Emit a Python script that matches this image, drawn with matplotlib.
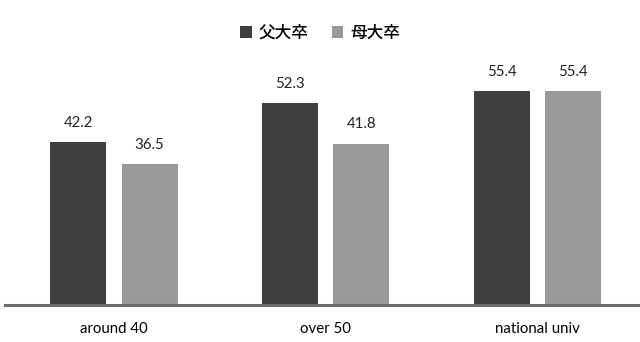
import matplotlib
matplotlib.use("Agg")
import matplotlib.pyplot as plt
import numpy as np

categories = ["around 40", "over 50", "national univ"]
father = [42.2, 52.3, 55.4]
mother = [36.5, 41.8, 55.4]
series_names = ["父大卒", "母大卒"]

plt.rcParams['font.family'] = ['Lato', 'Noto Sans CJK JP', 'DejaVu Sans']

fig = plt.figure(figsize=(6.4, 3.42), dpi=100)
ax = fig.add_axes([5 / 640, 37 / 342, 635 / 640, 270 / 342])

x = np.arange(len(categories))
w = 0.265
off = 0.168
b1 = ax.bar(x - off, father, w, color='#404040', label=series_names[0])
b2 = ax.bar(x + off, mother, w, color='#999999', label=series_names[1])

for bars in (b1, b2):
    for r in bars:
        ax.text(r.get_x() + r.get_width() / 2, r.get_height() + 3.2,
                "{:.1f}".format(r.get_height()), ha='center', va='bottom',
                fontsize=10.8, color='#222222')

ax.set_xlim(-0.515, 2.485)
ax.set_ylim(0, 70)
ax.set_xticks(x)
ax.set_xticklabels(categories, fontsize=10.8)
ax.tick_params(axis='x', length=0, pad=12)
ax.set_yticks([])
for s in ['top', 'right', 'left']:
    ax.spines[s].set_visible(False)
ax.spines['bottom'].set_color('#6e6e6e')
ax.spines['bottom'].set_linewidth(2.2)

fig.legend(handles=[b1, b2], labels=series_names, loc='upper center',
           bbox_to_anchor=(0.5, 0.975), ncol=2, frameon=False,
           handlelength=0.7, handleheight=0.7, handletextpad=0.4,
           columnspacing=1.4,
           prop={'family': ['Noto Sans CJK JP', 'DejaVu Sans'], 'size': 12,
                 'weight': 'medium'})

fig.savefig("out.png", dpi=100)
